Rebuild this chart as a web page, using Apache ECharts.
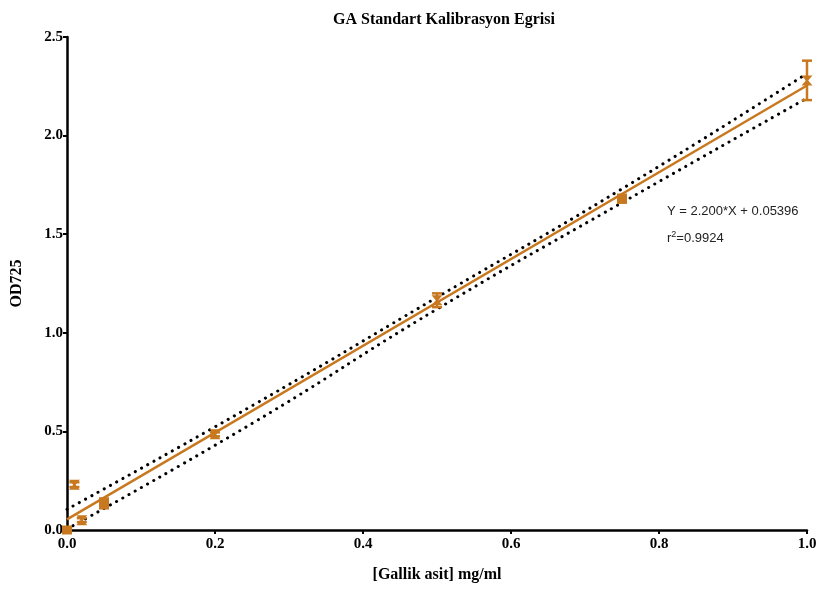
<!DOCTYPE html>
<html><head><meta charset="utf-8">
<script src="https://cdn.jsdelivr.net/npm/echarts@6/dist/echarts.min.js"></script>
<style>html,body{margin:0;padding:0;background:#fff}#c{width:822px;height:589px}</style>
</head><body><div id="c"></div>
<script>
const xVals = [0, 0.01, 0.02, 0.05, 0.2, 0.5, 0.75, 1.0];
const yMeans = [0.0, 0.23, 0.05, 0.135, 0.485, 1.165, 1.68, 2.28];
const yErr = [0.01, 0.012, 0.01, 0.025, 0.01, 0.035, 0.02, 0.1];
const markerKinds = ['rect', 'hour', 'hour', 'rect', 'hour', 'hour', 'rect', 'hour'];
const fitX = [0, 1];
const fitY = [0.05396, 2.25396];
const bandX = [0, 0.25, 0.5, 0.75, 1];
const bandUpper = [0.105, 0.63, 1.18, 1.73, 2.315];
const bandLower = [0.005, 0.54, 1.12, 1.66, 2.19];
const xTicks = [0.0, 0.2, 0.4, 0.6, 0.8, 1.0];
const yTicks = [0.0, 0.5, 1.0, 1.5, 2.0, 2.5];

const ORANGE = '#C8781E';
const hourPath = 'path://M0,0L10,0L6,5L10,10L0,10L4,5Z';
const chart = echarts.init(document.getElementById('c'));
const tickFont = {fontFamily: 'Liberation Serif', fontWeight: 'bold', fontSize: 15, color: '#000'};

chart.setOption({
  animation: false,
  title: {text: 'GA Standart Kalibrasyon Egrisi', left: 439, top: 7, textAlign: 'center',
    textStyle: {fontFamily: 'Liberation Serif', fontWeight: 'bold', fontSize: 16, color: '#000'}},
  grid: {left: 67, right: 15, top: 37, bottom: 59},
  xAxis: {type: 'value', min: 0, max: 1, interval: 0.2,
    name: '[Gallik asit] mg/ml', nameLocation: 'middle', nameGap: 37,
    nameTextStyle: {fontFamily: 'Liberation Serif', fontWeight: 'bold', fontSize: 16, color: '#000'},
    axisLine: {lineStyle: {color: '#000', width: 2.5}},
    axisTick: {show: true, length: 4, lineStyle: {color: '#000', width: 2}},
    splitLine: {show: false},
    axisLabel: Object.assign({margin: 7, formatter: v => v.toFixed(1)}, tickFont)},
  yAxis: {type: 'value', min: 0, max: 2.5, interval: 0.5,
    name: 'OD725', nameLocation: 'middle', nameGap: 42, nameRotate: 90,
    nameTextStyle: {fontFamily: 'Liberation Serif', fontWeight: 'bold', fontSize: 16, color: '#000'},
    axisLine: {show: true, lineStyle: {color: '#000', width: 2.5}},
    axisTick: {show: true, length: 4, lineStyle: {color: '#000', width: 2}},
    splitLine: {show: false},
    axisLabel: Object.assign({margin: 4, formatter: v => v.toFixed(1)}, tickFont)},
  graphic: [
    {type: 'text', left: 667, top: 205, style: {text: 'Y = 2.200*X + 0.05396', fontFamily: 'Liberation Sans', fontSize: 13, fill: '#222'}},
    {type: 'text', left: 667, top: 230, style: {text: '{a|r}{s|2}{a|=0.9924}', fontFamily: 'Liberation Sans', fontSize: 13, fill: '#222',
      rich: {a: {fontFamily: 'Liberation Sans', fontSize: 13, color: '#222'}, s: {fontFamily: 'Liberation Sans', fontSize: 9, color: '#222', verticalAlign: 'top', padding: [0,0,7,0]}}}}
  ],
  series: [
    {type: 'line', data: bandX.map((x, i) => [x, bandUpper[i]]), smooth: true, symbol: 'none',
      lineStyle: {color: '#000', width: 3, type: [0.1, 7], cap: 'round'}, z: 2},
    {type: 'line', data: bandX.map((x, i) => [x, bandLower[i]]), smooth: true, symbol: 'none',
      lineStyle: {color: '#000', width: 3, type: [0.1, 7], cap: 'round'}, z: 2},
    {type: 'line', data: fitX.map((x, i) => [x, fitY[i]]), symbol: 'none',
      lineStyle: {color: ORANGE, width: 2.5}, z: 3},
    {type: 'custom', z: 4,
      data: xVals.map((x, i) => [x, yMeans[i] - yErr[i], yMeans[i] + yErr[i]]),
      renderItem: function (params, api) {
        const lo = api.coord([api.value(0), api.value(1)]);
        const hi = api.coord([api.value(0), api.value(2)]);
        const w = 5;
        const st = {stroke: ORANGE, lineWidth: 2.5};
        return {type: 'group', children: [
          {type: 'line', shape: {x1: lo[0], y1: lo[1], x2: hi[0], y2: hi[1]}, style: st},
          {type: 'line', shape: {x1: lo[0] - w, y1: lo[1], x2: lo[0] + w, y2: lo[1]}, style: st},
          {type: 'line', shape: {x1: hi[0] - w, y1: hi[1], x2: hi[0] + w, y2: hi[1]}, style: st}
        ]};
      }},
    {type: 'scatter', z: 5,
      data: xVals.map((x, i) => ({value: [x, yMeans[i]],
        symbol: markerKinds[i] === 'rect' ? 'rect' : hourPath,
        symbolSize: markerKinds[i] === 'rect' ? [10, 9] : [11, 10]})),
      itemStyle: {color: ORANGE, opacity: 1}}
  ]
});
</script></body></html>
